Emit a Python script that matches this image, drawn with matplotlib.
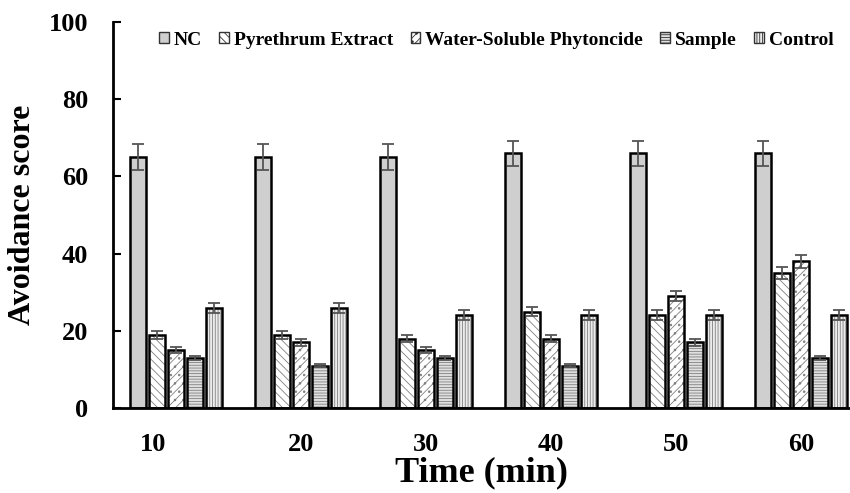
import numpy as np
import matplotlib
matplotlib.use("Agg")
import matplotlib.pyplot as plt
from matplotlib.patches import Patch

plt.rcParams['font.family'] = ['Liberation Serif', 'DejaVu Serif']
plt.rcParams['font.weight'] = 'bold'
plt.rcParams['hatch.linewidth'] = 0.6

# data
times = ["10", "20", "30", "40", "50", "60"]
series = ["NC", "Pyrethrum Extract", "Water-Soluble Phytoncide", "Sample", "Control"]
nc = [65, 65, 65, 66, 66, 66]
pyrethrum = [19, 19, 18, 25, 24, 35]
phytoncide = [15, 17, 15, 18, 29, 38]
sample = [13, 11, 13, 11, 17, 13]
control = [26, 26, 24, 24, 24, 24]
nc_err = [3.3, 3.3, 3.3, 3.2, 3.2, 3.2]
pyrethrum_err = [1.0, 1.0, 0.9, 1.2, 1.3, 1.6]
phytoncide_err = [0.7, 0.9, 0.8, 0.9, 1.3, 1.7]
sample_err = [0.6, 0.5, 0.6, 0.5, 0.9, 0.6]
control_err = [1.3, 1.3, 1.3, 1.3, 1.3, 1.3]

values = [nc, pyrethrum, phytoncide, sample, control]
errors = [nc_err, pyrethrum_err, phytoncide_err, sample_err, control_err]
faces = ["#cfcfcf", "white", "white", "#e0e0e0", "#ececec"]
hatches = ["", "\\\\\\\\", "////..", "------", "||||||"]

fig = plt.figure(figsize=(8.5, 4.93), dpi=100)
ax = fig.add_axes([113 / 850, 1 - 408 / 493, 737 / 850, 386 / 493])

x = np.arange(len(times))
step = 0.152
width = 0.125
for i, (vals, errs) in enumerate(zip(values, errors)):
    pos = x + (i - 2) * step
    # hatch layer, then black outline on top
    ax.bar(pos, vals, width, color=faces[i], hatch=hatches[i],
           edgecolor="#808080", linewidth=0, zorder=2)
    ax.bar(pos, vals, width, fill=False, edgecolor="black",
           linewidth=1.8, zorder=3)
    ax.errorbar(pos, vals, yerr=errs, fmt="none", ecolor="#555555",
                elinewidth=1.3, capsize=4, capthick=1.3, zorder=4)

proxies = [Patch(facecolor=faces[i], edgecolor="#333333", hatch=hatches[i],
                 linewidth=1.0, label=series[i]) for i in range(5)]
ax.legend(handles=proxies, loc="center", ncol=5, frameon=False,
          bbox_to_anchor=(0.52, 0.953), fontsize=14, handlelength=0.5,
          handleheight=0.5, handletextpad=0.25, columnspacing=0.9,
          borderpad=0, borderaxespad=0)

ax.set_ylim(0, 100)
ax.set_xlim(-0.504, 5.39)
ax.set_yticks(range(0, 101, 20))
ticks = list(x.astype(float))
ticks[0] -= 0.18
ax.set_xticks(ticks)
ax.set_xticklabels(times)
ax.tick_params(axis="y", direction="in", length=6, width=1.5, labelsize=19, pad=18)
ax.tick_params(axis="x", length=0, labelsize=19, pad=18)
for lab in ax.get_xticklabels() + ax.get_yticklabels():
    lab.set_fontweight("bold")

ax.spines["top"].set_visible(False)
ax.spines["right"].set_visible(False)
ax.spines["left"].set_linewidth(2)
ax.spines["bottom"].set_linewidth(2)

ax.set_ylabel("Avoidance score", fontsize=23, fontweight="bold", labelpad=8)
ax.set_xlabel("Time (min)", fontsize=26, fontweight="bold", labelpad=0)

fig.savefig("out.png", dpi=100)
